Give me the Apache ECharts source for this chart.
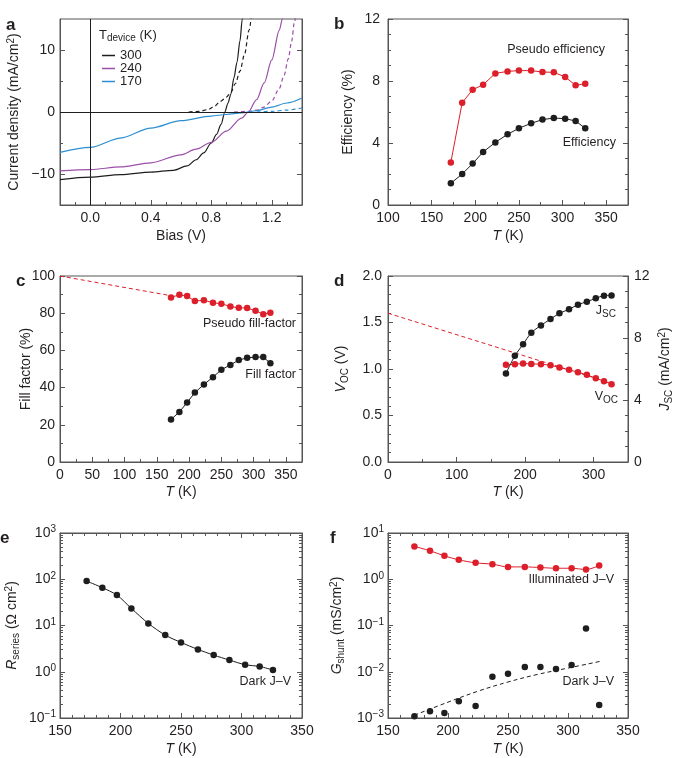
<!DOCTYPE html>
<html><head><meta charset="utf-8">
<script src="https://cdn.jsdelivr.net/npm/echarts@6/dist/echarts.min.js"></script>
<style>html,body{margin:0;padding:0;background:#fff}#chart{width:675px;height:758px}</style>
</head><body><div id="chart"></div>
<script>
// ---------------- DATA ----------------
const temps = [172,185,197,209,223,237,250,264,277,290,303,315,326];
// panel b
const effPseudo = [2.75,6.6,7.44,7.76,8.49,8.62,8.67,8.67,8.58,8.56,8.26,7.72,7.83];
const effReal = [1.40,2.0,2.67,3.42,4.04,4.56,4.95,5.27,5.51,5.61,5.57,5.42,4.95];
// panel c
const ffPseudo = [88.5,89.9,89.2,86.5,87.0,85.6,85.1,83.6,82.9,82.8,81.3,79.4,80.3];
const ffReal = [22.8,26.9,32.0,37.3,41.7,45.6,49.6,52.2,54.8,56.0,56.4,56.4,53.1];
const ffFitT = [0,172];
const ffFitVal = [100,89.4];
// panel d
const vocVals = [1.045,1.052,1.059,1.055,1.052,1.041,1.016,0.991,0.966,0.937,0.901,0.869,0.837];
const jscVals = [5.71,6.85,7.59,8.34,8.81,9.22,9.59,9.85,10.15,10.34,10.56,10.73,10.75];
const vocFitT = [0,327];
const vocFitVal = [1.6,0.845];
// panel e
const rSeries = [91.4,65.6,45.5,23.4,11.1,6.2,4.3,3.04,2.29,1.79,1.42,1.30,1.09];
// panel f
const gShuntLight = [5.13,4.13,3.21,2.63,2.26,2.12,1.85,1.85,1.79,1.73,1.73,1.62,1.98];
const gShuntDark = [1.09e-3,1.40e-3,1.29e-3,2.30e-3,1.82e-3,7.78e-3,9.06e-3,1.26e-2,1.26e-2,1.14e-2,1.40e-2,8.6e-2,1.92e-3];
const gFitT = [172,200,225,250,275,300,328];
const gFitVal = [1.15e-3,2.2e-3,3.8e-3,6.0e-3,8.8e-3,1.2e-2,1.7e-2];
// panel a : J-V curves
const jv300V = [-0.2,0,0.2,0.4,0.55,0.64,0.7,0.75,0.8,0.835,0.865,0.89,0.91,0.93,0.95,0.97,0.99,1.005,1.02];
const jv300J = [-10.9,-10.5,-10.1,-9.7,-9.4,-8.7,-7.7,-6.6,-5.0,-3.6,-2.0,0,1.4,2.9,5.5,8.0,11.5,15.0,19];
const dk300V = [0.65,0.72,0.78,0.82,0.86,0.9,0.93,0.96,0.99,1.02,1.05,1.07];
const dk300J = [0,0.1,0.4,0.9,1.7,2.4,3.2,4.6,6.6,9.3,13.2,16.5];
const jv240V = [-0.2,0,0.2,0.4,0.6,0.7,0.8,0.9,1.0,1.045,1.1,1.15,1.2,1.25,1.27,1.29];
const jv240J = [-9.5,-9.3,-8.85,-8.2,-6.9,-6.0,-4.9,-3.1,-1.0,0,2.0,4.7,8.4,13.2,15.0,17];
const dk240V = [0.95,1.05,1.1,1.15,1.2,1.25,1.28,1.31,1.33,1.35,1.37];
const dk240J = [0,0.1,0.3,0.8,1.8,3.8,5.8,8.6,11.2,14.5,18];
const jv170V = [-0.2,0,0.2,0.4,0.6,0.8,0.9,1.0,1.1,1.2,1.3,1.4];
const jv170J = [-6.5,-5.7,-4.2,-2.6,-1.4,-0.65,-0.4,-0.15,0.2,0.8,1.45,2.25];
const dk170V = [1.1,1.2,1.3,1.4];
const dk170J = [0,0.1,0.3,0.65];
const legendNames = ['300','240','170'];
// tick values
const aXMajor = [0,0.4,0.8,1.2], aXMinor = [-0.1,0.1,0.2,0.3,0.5,0.6,0.7,0.9,1.0,1.1,1.3];
const aYMajor = [-10,0,10], aYMinor = [-5,5];
const bXMajor = [100,150,200,250,300,350], bXMinor = [125,175,225,275,325];
const bYMajor = [0,4,8,12], bYMinor = [1,2,3,5,6,7,9,10,11];
const cXMajor = [0,50,100,150,200,250,300,350], cXMinor = [25,75,125,175,225,275,325];
const cYMajor = [0,20,40,60,80,100], cYMinor = [10,30,50,70,90];
const dXMajor = [0,100,200,300], dXMinor = [50,150,250];
const dYMajor = [0,0.5,1.0,1.5,2.0], dYMinor = [0.1,0.2,0.3,0.4,0.6,0.7,0.8,0.9,1.1,1.2,1.3,1.4,1.6,1.7,1.8,1.9];
const dY2Major = [0,4,8,12], dY2Minor = [1,2,3,5,6,7,9,10,11];
const efXMajor = [150,200,250,300,350], efXMinor = [160,170,180,190,210,220,230,240,260,270,280,290,310,320,330,340];
const eYMajor = [0.1,1,10,100,1000], eYMinor = [0.2,0.3,0.4,0.5,0.6,0.7,0.8,0.9,2,3,4,5,6,7,8,9,20,30,40,50,60,70,80,90,200,300,400,500,600,700,800,900];
const fYMajor = [0.001,0.01,0.1,1,10], fYMinor = [0.002,0.003,0.004,0.005,0.006,0.007,0.008,0.009,0.02,0.03,0.04,0.05,0.06,0.07,0.08,0.09,0.2,0.3,0.4,0.5,0.6,0.7,0.8,0.9,2,3,4,5,6,7,8,9];

// ---------------- STYLE ----------------
const FONT = 'Liberation Sans, Arial, Helvetica, sans-serif';
const TEXT = '#231f20', FRAME = '#555555', RED = '#dc1f2a', BLACK = '#1e1e1e', PURPLE = '#9b4fa8', BLUE = '#2c8fd2';
const RICH = {
  it: {fontStyle: 'italic'},
  sub: {fontSize: 10, padding: [7, 0, 0, 0]},
  sup: {fontSize: 10, padding: [0, 0, 7, 0]}
};
const zip = (a, b) => a.map((v, i) => [v, b[i]]);
const minus = s => String(s).replace('-', '\u2212');

const grids = [
  {left: 60, top: 19, width: 242, height: 186},
  {left: 388, top: 19, width: 240, height: 186},
  {left: 60, top: 276, width: 242, height: 186},
  {left: 388, top: 276, width: 240, height: 186},
  {left: 60, top: 533, width: 242, height: 185},
  {left: 388, top: 533, width: 240, height: 185}
].map(g => Object.assign({show: true, borderColor: FRAME, borderWidth: 1, backgroundColor: 'transparent', containLabel: false, outerBoundsMode: 'none'}, g));

const xAxes = [], yAxes = [];
function axisSet(list, grid, s) {
  const base = {gridIndex: grid, type: s.type || 'value', min: s.min, max: s.max, splitLine: {show: false},
    nameMoveOverlap: false, axisLine: {show: true, onZero: false, lineStyle: {color: FRAME, width: 1}}};
  if (s.type === 'log') base.logBase = 10;
  const main = Object.assign({}, base, {
    position: s.pos,
    axisTick: {show: true, inside: true, length: 5, customValues: s.major, lineStyle: {color: FRAME}},
    axisLabel: {show: true, customValues: s.major, formatter: s.fmt, margin: s.margin != null ? s.margin : 6,
      fontSize: 14, color: TEXT, fontFamily: FONT, rich: RICH},
    name: s.name, nameLocation: 'middle', nameGap: s.nameGap,
    nameTextStyle: {fontSize: 14, color: TEXT, fontFamily: FONT, rich: RICH}
  });
  list.push(main);
  const idx = list.length - 1;
  const mk = (pos, vals, len) => Object.assign({}, base, {position: pos, axisLine: {show: false, onZero: false},
    axisTick: {show: true, inside: true, length: len, customValues: vals, lineStyle: {color: FRAME}},
    axisLabel: {show: false}});
  list.push(mk(s.pos, s.minor, 3));
  if (s.mirror) {
    const m = mk(s.mirror, s.major, 5); m.axisLine = {show: true, onZero: false, lineStyle: {color: FRAME, width: 1}};
    list.push(m);
    list.push(mk(s.mirror, s.minor, 3));
  }
  return idx;
}
const T_NAME = '{it|T} (K)';
const logFmt = v => '10{sup|' + minus(Math.round(Math.log10(v))) + '}';

const ax = [], ay = [];
// a
ax[0] = axisSet(xAxes, 0, {min: -0.2, max: 1.4, major: aXMajor, minor: aXMinor, pos: 'bottom', fmt: v => v.toFixed(1), name: 'Bias (V)', nameGap: 24});
ay[0] = axisSet(yAxes, 0, {min: -15, max: 15, major: aYMajor, minor: aYMinor, pos: 'left', mirror: 'right', fmt: v => minus(v), name: 'Current density (mA/cm{sup|2})', nameGap: 37, margin: 5});
// b
ax[1] = axisSet(xAxes, 1, {min: 100, max: 375, major: bXMajor, minor: bXMinor, pos: 'bottom', fmt: v => String(v), name: T_NAME, nameGap: 24});
ay[1] = axisSet(yAxes, 1, {min: 0, max: 12, major: bYMajor, minor: bYMinor, pos: 'left', mirror: 'right', fmt: v => String(v), name: 'Efficiency (%)', nameGap: 33, margin: 8});
// c
ax[2] = axisSet(xAxes, 2, {min: 0, max: 375, major: cXMajor, minor: cXMinor, pos: 'bottom', fmt: v => String(v), name: T_NAME, nameGap: 23});
ay[2] = axisSet(yAxes, 2, {min: 0, max: 100, major: cYMajor, minor: cYMinor, pos: 'left', mirror: 'right', fmt: v => String(v), name: 'Fill factor (%)', nameGap: 27, margin: 5});
// d
ax[3] = axisSet(xAxes, 3, {min: 0, max: 350, major: dXMajor, minor: dXMinor, pos: 'bottom', fmt: v => String(v), name: T_NAME, nameGap: 23});
ay[3] = axisSet(yAxes, 3, {min: 0, max: 2, major: dYMajor, minor: dYMinor, pos: 'left', fmt: v => v.toFixed(1), name: '{it|V}{sub|OC} (V)', nameGap: 38, margin: 6});
const ay3r = axisSet(yAxes, 3, {min: 0, max: 12, major: dY2Major, minor: dY2Minor, pos: 'right', fmt: v => String(v), name: '{it|J}{sub|SC} (mA/cm{sup|2})', nameGap: 29, margin: 6});
// e
ax[4] = axisSet(xAxes, 4, {min: 150, max: 350, major: efXMajor, minor: efXMinor, pos: 'bottom', mirror: 'top', fmt: v => String(v), name: T_NAME, nameGap: 24});
ay[4] = axisSet(yAxes, 4, {type: 'log', min: 0.1, max: 1000, major: eYMajor, minor: eYMinor, pos: 'left', mirror: 'right', fmt: logFmt, name: '{it|R}{sub|series} (\u03a9 cm{sup|2})', nameGap: 39, margin: 4});
// f
ax[5] = axisSet(xAxes, 5, {min: 150, max: 350, major: efXMajor, minor: efXMinor, pos: 'bottom', mirror: 'top', fmt: v => String(v), name: T_NAME, nameGap: 24});
ay[5] = axisSet(yAxes, 5, {type: 'log', min: 0.001, max: 10, major: fYMajor, minor: fYMinor, pos: 'left', mirror: 'right', fmt: logFmt, name: '{it|G}{sub|shunt} (mS/cm{sup|2})', nameGap: 42, margin: 4});

function curve(name, g, V, J, color, dashed) {
  return {name, type: 'line', xAxisIndex: ax[g], yAxisIndex: ay[g], data: zip(V, J), symbol: 'none',
    smooth: 0.3, smoothMonotone: 'x', clip: true,
    lineStyle: {color, width: 1.2, type: dashed ? [4, 3] : 'solid'}, itemStyle: {color}, z: 3};
}
function pts(name, g, yIdx, T, Y, color, smooth) {
  return {name, type: 'line', xAxisIndex: ax[g], yAxisIndex: yIdx, data: zip(T, Y), symbol: 'circle', symbolSize: 6.5,
    smooth: smooth || false, lineStyle: {color, width: 1}, itemStyle: {color, opacity: 1}, z: 4};
}

const series = [
  Object.assign(curve('300', 0, jv300V, jv300J, BLACK, false), {
    markLine: {silent: true, symbol: 'none', label: {show: false}, animation: false,
      lineStyle: {color: BLACK, width: 1, type: 'solid'}, data: [{xAxis: 0}, {yAxis: 0}]}}),
  curve('300d', 0, dk300V, dk300J, BLACK, true),
  curve('240', 0, jv240V, jv240J, PURPLE, false),
  curve('240d', 0, dk240V, dk240J, PURPLE, true),
  curve('170', 0, jv170V, jv170J, BLUE, false),
  curve('170d', 0, dk170V, dk170J, BLUE, true),
  pts('Pseudo efficiency', 1, ay[1], temps, effPseudo, RED),
  pts('Efficiency', 1, ay[1], temps, effReal, BLACK),
  {name: 'ff fit', type: 'line', xAxisIndex: ax[2], yAxisIndex: ay[2], data: zip(ffFitT, ffFitVal), symbol: 'none',
    lineStyle: {color: RED, width: 1, type: [4, 3]}, z: 2},
  pts('Pseudo fill-factor', 2, ay[2], temps, ffPseudo, RED),
  pts('Fill factor', 2, ay[2], temps, ffReal, BLACK),
  {name: 'voc fit', type: 'line', xAxisIndex: ax[3], yAxisIndex: ay[3], data: zip(vocFitT, vocFitVal), symbol: 'none',
    lineStyle: {color: RED, width: 1, type: [4, 3]}, z: 2},
  pts('Voc', 3, ay[3], temps, vocVals, RED),
  pts('Jsc', 3, ay3r, temps, jscVals, BLACK, 0.3),
  pts('Rseries', 4, ay[4], temps, rSeries, BLACK, 0.3),
  pts('Gshunt light', 5, ay[5], temps, gShuntLight, RED, 0.3),
  {name: 'Gshunt dark', type: 'scatter', xAxisIndex: ax[5], yAxisIndex: ay[5], data: zip(temps, gShuntDark),
    symbolSize: 6.5, itemStyle: {color: BLACK, opacity: 1}, z: 4},
  {name: 'Gshunt fit', type: 'line', xAxisIndex: ax[5], yAxisIndex: ay[5], data: zip(gFitT, gFitVal), symbol: 'none',
    smooth: 0.4, lineStyle: {color: BLACK, width: 1, type: [4, 3]}, z: 2}
];

function txt(x, y, text, opts) {
  return {type: 'text', x, y, silent: true, style: Object.assign({text, fill: TEXT, fontSize: 12.5, fontFamily: FONT,
    align: 'right', verticalAlign: 'middle', rich: RICH}, opts || {})};
}
const letter = (x, y, t) => txt(x, y, t, {fontSize: 17, fontWeight: 'bold', align: 'left', verticalAlign: 'alphabetic'});
const graphic = [
  letter(6, 17, 'a'), letter(334, 16, 'b'), letter(16, 273, 'c'), letter(334, 273, 'd'), letter(0, 530, 'e'), letter(330, 530, 'f'),
  txt(99, 35, '{it|T}{sub|device} (K)', {align: 'left', fontSize: 13}),
  txt(605, 50, 'Pseudo efficiency'),
  txt(616, 143, 'Efficiency'),
  txt(296, 324, 'Pseudo fill-factor'),
  txt(296, 375, 'Fill factor'),
  txt(616, 311, '{it|J}{sub|SC}'),
  txt(618, 397, '{it|V}{sub|OC}'),
  txt(291, 682, 'Dark {it|J}\u2013{it|V}'),
  txt(614, 580, 'Illuminated {it|J}\u2013{it|V}'),
  txt(614, 682, 'Dark {it|J}\u2013{it|V}')
];

const chart = echarts.init(document.getElementById('chart'), null, {renderer: 'canvas'});
chart.setOption({
  animation: false,
  backgroundColor: '#ffffff',
  textStyle: {fontFamily: FONT, color: TEXT},
  grid: grids,
  xAxis: xAxes,
  yAxis: yAxes,
  legend: {data: legendNames.map(n => ({name: n, icon: 'rect'})), left: 97, top: 44, orient: 'vertical',
    itemWidth: 13, itemHeight: 1.5, itemGap: 0,
    selectedMode: false, textStyle: {fontSize: 13, color: TEXT, fontFamily: FONT, lineHeight: 12.5}},
  series,
  graphic
});
</script></body></html>
